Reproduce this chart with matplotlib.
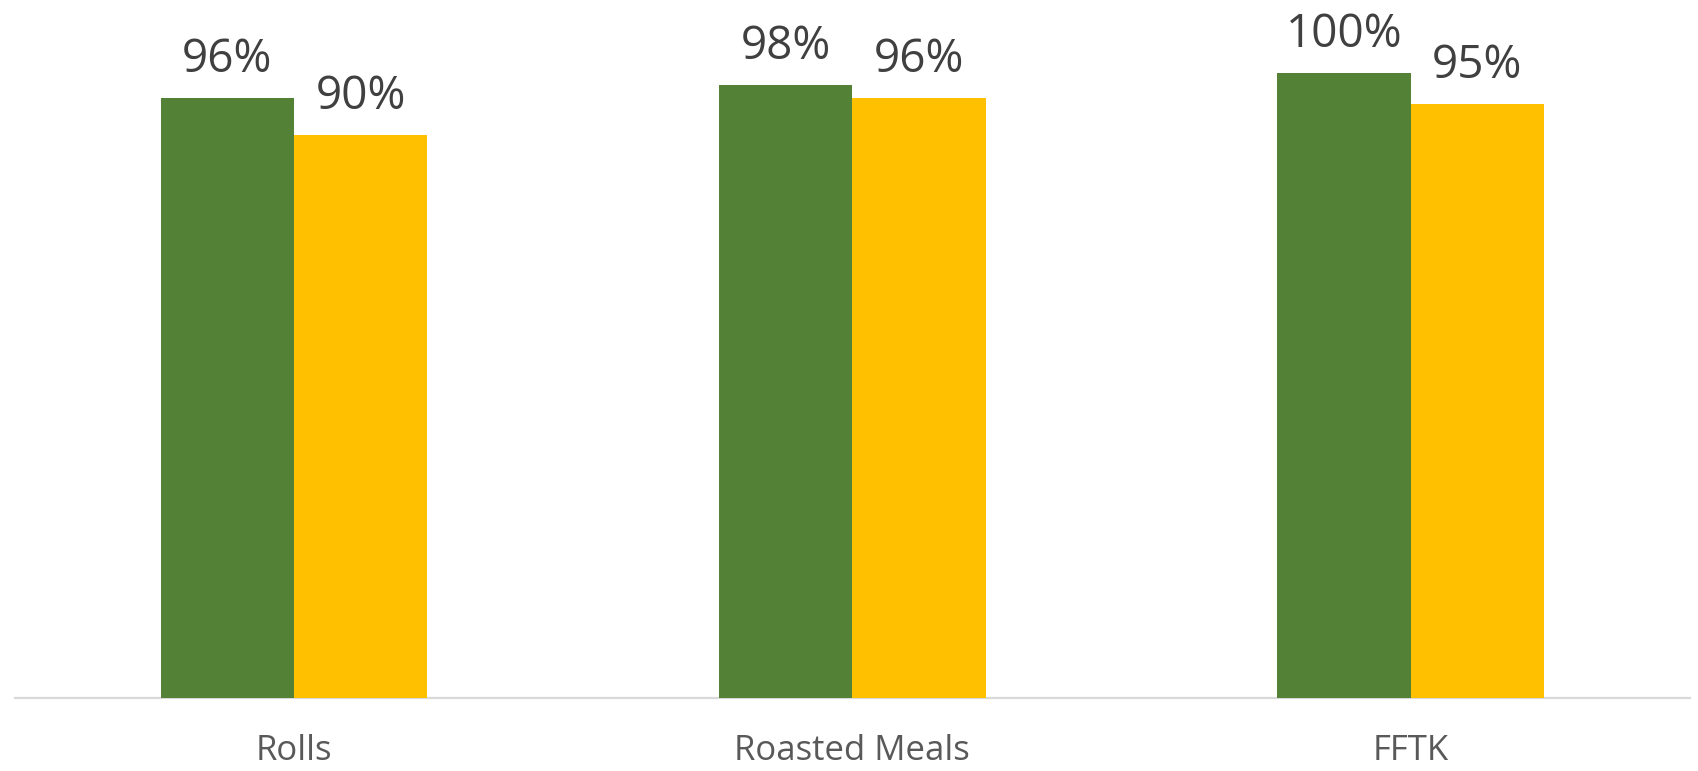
import matplotlib
matplotlib.use("Agg")
import matplotlib.pyplot as plt
import numpy as np

# Data
categories = ["Rolls", "Roasted Meals", "FFTK"]
series_green = [96, 98, 100]
series_yellow = [90, 96, 95]

GREEN = "#538135"
YELLOW = "#FFC000"
VALUE_COLOR = "#404040"
CAT_COLOR = "#595959"

DPI = 100
W_PX, H_PX = 1698, 771
fig = plt.figure(figsize=(W_PX / DPI, H_PX / DPI), dpi=DPI)
fig.patch.set_facecolor("white")
ax = fig.add_axes([0, 0, 1, 1])
ax.set_facecolor("white")

# Layout in pixels, converted to data limits
group_px = 558.25       # distance between category centres
first_center_px = 294.0
baseline_px = 697.5
px_per_unit = 6.248

ax.set_xlim(-first_center_px / group_px, (W_PX - first_center_px) / group_px)
ax.set_ylim(-(H_PX - baseline_px) / px_per_unit, baseline_px / px_per_unit)

x = np.arange(len(categories))
bw = 0.239

# Baseline axis line
ax.axhline(0, xmin=15 / W_PX, xmax=1690 / W_PX, color="#d9d9d9", lw=1.6, zorder=1)

bars_g = ax.bar(x - bw / 2, series_green, width=bw, color=GREEN, zorder=2, linewidth=0)
bars_y = ax.bar(x + bw / 2, series_yellow, width=bw, color=YELLOW, zorder=2, linewidth=0)

font = "Open Sans"
for bars, vals in ((bars_g, series_green), (bars_y, series_yellow)):
    for b, v in zip(bars, vals):
        ax.annotate(f"{v}%", xy=(b.get_x() + b.get_width() / 2, v),
                    xytext=(0, 26 * 0.72), textcoords="offset points",
                    ha="center", va="baseline", fontsize=33,
                    color=VALUE_COLOR, family=font)

for xi, name in zip(x, categories):
    ax.annotate(name, xy=(xi, 0), xytext=(0, -63 * 0.72),
                textcoords="offset points", ha="center", va="baseline",
                fontsize=25, color=CAT_COLOR, family=font)

ax.axis("off")
fig.savefig("out.png", dpi=DPI, facecolor=fig.get_facecolor())
